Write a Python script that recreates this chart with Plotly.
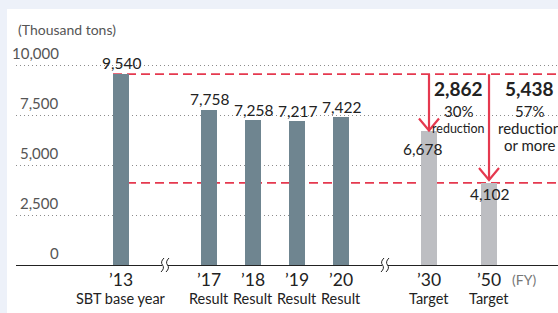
import plotly.graph_objects as go

# ---------------- data ----------------
years = ["’13", "’17", "’18", "’19", "’20", "’30", "’50"]
sublabels = ["SBT base year", "Result", "Result", "Result", "Result", "Target", "Target"]
values = [9540, 7758, 7258, 7217, 7422, 6678, 4102]
value_text = ["9,540", "7,758", "7,258", "7,217", "7,422", "6,678", "4,102"]
kinds = ["actual", "actual", "actual", "actual", "actual", "target", "target"]
y_ticks = [0, 2500, 5000, 7500, 10000]
y_tick_text = ["0", "2,500", "5,000", "7,500", "10,000"]
reduction_values = ["2,862", "5,438"]
reduction_notes = [["30%", "reduction"], ["57%", "reduction", "or more"]]
unit_label = "(Thousand tons)"
fy_label = "(FY)"

# ---------------- layout helpers ----------------
slots = [0, 2, 3, 4, 5, 7, 8.364]       # horizontal slot of each bar
breaks = [1, 6]                          # axis break marks
W, H = 558, 313
ML, MT = 16, 15
PXX = 44.0    # px per x unit
PXY = 1 / 50  # px per y unit
x_range = [-105 / PXX, (W - 121) / PXX]
y_range = [-(313 - 265) / PXY, 10000 + (65 - MT) / PXY]
dx = lambda px: px / PXX
dy = lambda px: px / PXY

RED = "#e5394f"
DARK = "#6f8590"
LIGHT = "#bdbec2"
TXT = "#222222"
GREY = "#555555"
FONT = "Lato, 'Noto Sans', sans-serif"

colors = [DARK if k == "actual" else LIGHT for k in kinds]

fig = go.Figure()
fig.add_trace(go.Bar(x=slots, y=values, width=dx(16), marker=dict(color=colors, line=dict(width=0)),
                     hoverinfo="skip"))

ann = []
shapes = []

# white panel
shapes.append(dict(type="rect", xref="paper", yref="paper", x0=-(ML - 7) / (W - ML), x1=1,
                   y0=0, y1=1 + (MT - 9) / (H - MT), fillcolor="white", line=dict(width=0), layer="below"))

# y tick labels above gridlines
for v, t in zip(y_ticks, y_tick_text):
    ann.append(dict(x=dx(61 - 121), y=v + dy(12), text=t, xanchor="right", yanchor="middle",
                    showarrow=False, font=dict(size=15, color=GREY, family=FONT)))
ann.append(dict(x=x_range[0], y=10000 + dy(36), text=unit_label, xanchor="left", yanchor="middle",
                showarrow=False, font=dict(size=14, color=GREY, family=FONT)))

# value labels
label_offsets = [(0, 11), (0, 11), (0, 10), (0, 10), (0, 10), (-7, -18), (0, -11)]
for s, v, t, (ox, oy) in zip(slots, values, value_text, label_offsets):
    ann.append(dict(x=s + dx(ox), y=v + dy(oy), text=t, xanchor="center", yanchor="middle",
                    showarrow=False, font=dict(size=15.5, color=TXT, family=FONT)))

# x labels
for s, yl, sl in zip(slots, years, sublabels):
    ann.append(dict(x=s, y=-dy(14), text=yl, xanchor="center", yanchor="middle", borderpad=0,
                    showarrow=False, font=dict(size=17.5, color=TXT, family=FONT)))
    ann.append(dict(x=s, y=-dy(33), text=sl, xanchor="center", yanchor="middle", borderpad=0,
                    showarrow=False, font=dict(size=14.5, color=TXT, family=FONT)))
ann.append(dict(x=dx(524 - 121), y=-dy(14), text=fy_label, xanchor="center", yanchor="middle",
                showarrow=False, font=dict(size=14, color="#777777", family=FONT)))

# reference dashed lines
base = values[0]
shapes.append(dict(type="line", x0=slots[0] - dx(8), x1=x_range[1], y0=base, y1=base,
                   line=dict(color=RED, width=1.8, dash="9px,5px"), layer="between"))
shapes.append(dict(type="line", x0=slots[0] - dx(8), x1=x_range[1], y0=values[6], y1=values[6],
                   line=dict(color=RED, width=1.8, dash="9px,5px"), layer="between"))

# arrows
for i, tip_gap in [(5, 1), (6, 3)]:
    xs = slots[i]
    tip = values[i] + dy(tip_gap)
    shapes.append(dict(type="line", x0=xs, x1=xs, y0=base, y1=tip, line=dict(color=RED, width=2.2)))
    shapes.append(dict(type="path",
                       path=f"M {xs - dx(10)},{tip + dy(12)} L {xs},{tip} L {xs + dx(10)},{tip + dy(12)}",
                       line=dict(color=RED, width=2.2)))

# reduction texts
red_x = [dx(458 - 121), dx(529 - 121)]
note_px = [111, 128, 145]
note_sizes = [[15, 12.5], [15, 15, 15]]
for rx, rv, notes, sizes in zip(red_x, reduction_values, reduction_notes, note_sizes):
    ann.append(dict(x=rx, y=dy(265 - 88), text=f"<b>{rv}</b>", xanchor="center", yanchor="middle",
                    showarrow=False, font=dict(size=19, color=TXT, family=FONT)))
    for n, py, fs in zip(notes, note_px, sizes):
        ann.append(dict(x=rx, y=dy(265 - py), text=n, xanchor="center", yanchor="middle",
                        showarrow=False, font=dict(size=fs, color=TXT, family=FONT)))

# axis break marks
for b in breaks:
    shapes.append(dict(type="rect", x0=b - dx(3), x1=b + dx(3), y0=-dy(3), y1=dy(3),
                       fillcolor="white", line=dict(width=0)))
    for off in (-2.5, 2.5):
        xc = b + dx(off)
        shapes.append(dict(type="path",
                           path=(f"M {xc + dx(1.5)},{dy(7)} Q {xc - dx(2.5)},{dy(3)} {xc},{0} "
                                 f"T {xc - dx(1.5)},{-dy(7)}"),
                           line=dict(color=TXT, width=1)))

fig.update_layout(
    width=W, height=H,
    margin=dict(l=ML, r=0, t=MT, b=0),
    paper_bgcolor="#edf1f9", plot_bgcolor="white",
    showlegend=False, bargap=0,
    xaxis=dict(range=x_range, showgrid=False, zeroline=False, showline=False,
               showticklabels=False, ticks="", fixedrange=True),
    yaxis=dict(range=y_range, tickvals=y_ticks[1:], showticklabels=False, ticks="",
               showgrid=True, gridcolor="#8c8c8c", gridwidth=1, griddash="1px,3px",
               zeroline=True, zerolinecolor="#222222", zerolinewidth=1.3, showline=False,
               fixedrange=True),
    annotations=ann, shapes=shapes,
)

fig.write_html("out.html", config={"displayModeBar": False},
               post_script="document.body.style.margin='0';document.body.style.overflow='hidden';")
